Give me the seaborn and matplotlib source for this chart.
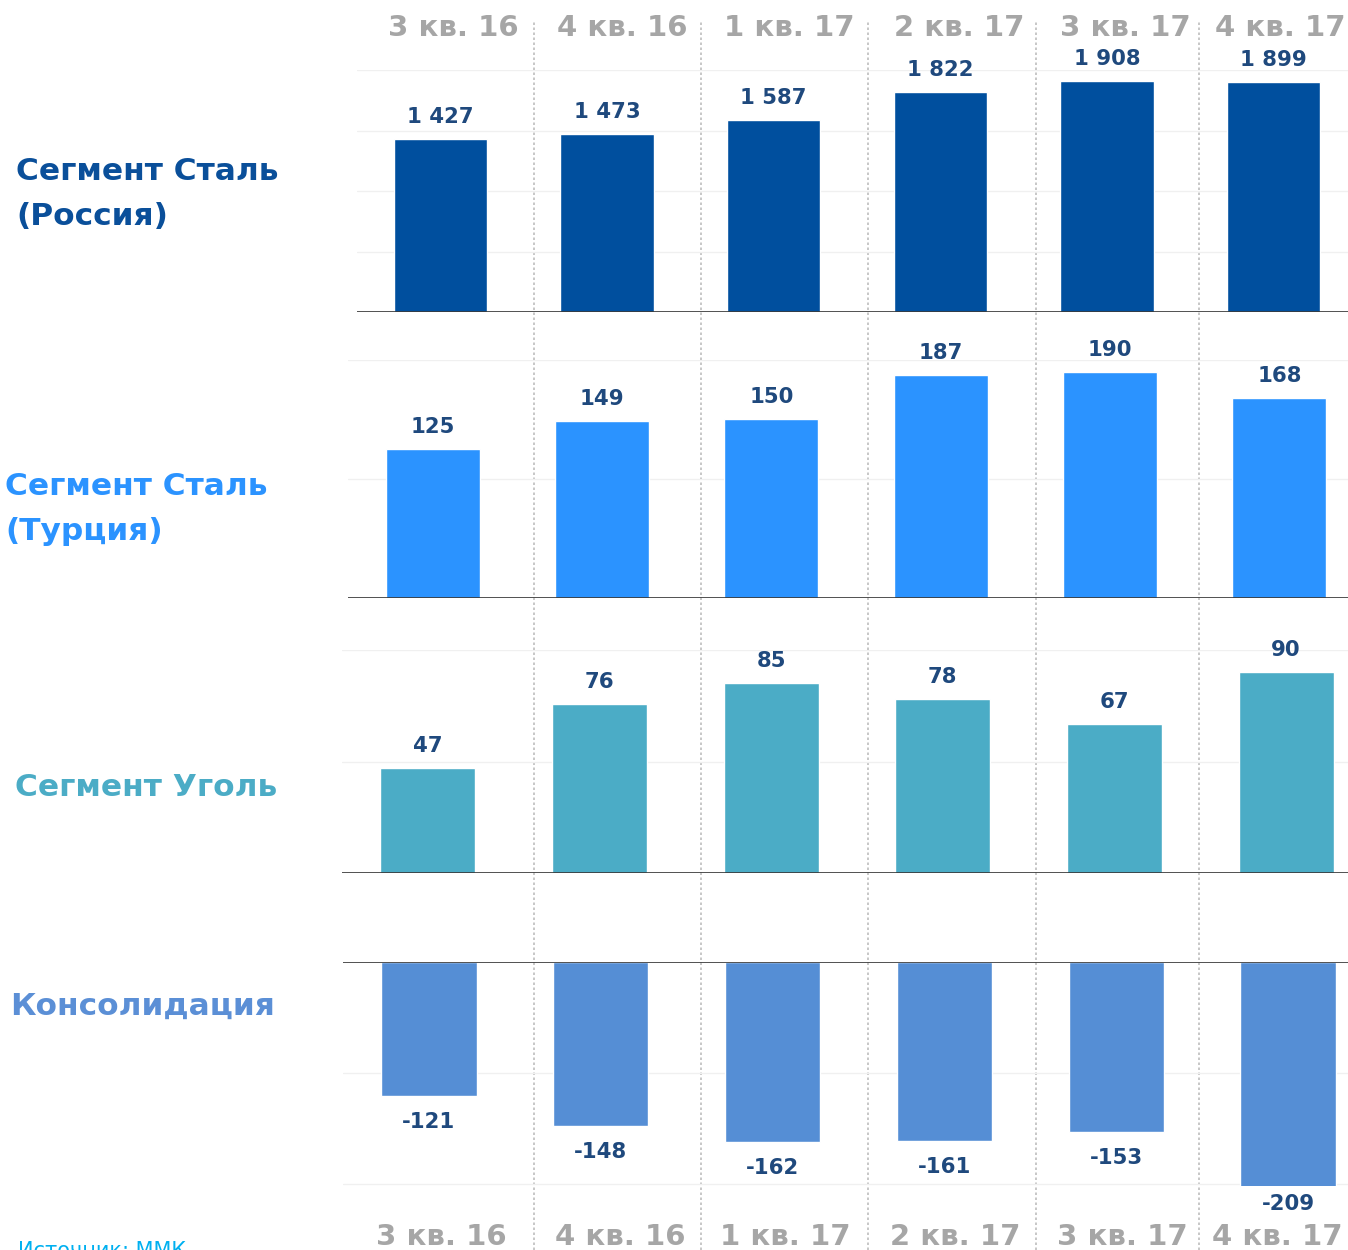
import numpy as np
import pandas as pd
import matplotlib.pyplot as plt
from matplotlib.lines import Line2D
import seaborn as sns

quarters = ['3 кв. 16', '4 кв. 16', '1 кв. 17', '2 кв. 17', '3 кв. 17', '4 кв. 17']
steel_russia = [1427, 1473, 1587, 1822, 1908, 1899]
steel_turkey = [125, 149, 150, 187, 190, 168]
coal = [47, 76, 85, 78, 67, 90]
consolidation = [-121, -148, -162, -161, -153, -209]

segment_names = ['Сегмент Сталь\n(Россия)', 'Сегмент Сталь\n(Турция)', 'Сегмент Уголь', 'Консолидация']
segment_colors = ['#004f9e', '#2b93ff', '#4bacc6', '#558ed5']
name_colors = ['#0a4f9a', '#2b93ff', '#4bacc6', '#5b8fd6']
label_color = '#1f497d'
quarter_color = '#a6a6a6'

sns.set_theme(style='white')
plt.rcParams['font.family'] = ['DejaVu Sans']

W, H = 1348, 1250
fig = plt.figure(figsize=(W / 100, H / 100), dpi=100)


def px_axes(left, top, width, height):
    return fig.add_axes([left / W, 1 - (top + height) / H, width / W, height / H])


# panel layout in pixels: left, top, width, height, ylim, grid ticks, bar width
panels = [
    (steel_russia, 357, 70, 1000, 242, (0, 2000), [500, 1000, 1500, 2000], 0.56),
    (steel_turkey, 348, 360, 1016, 238, (0, 200), [100, 200], 0.555),
    (coal, 342, 650, 1030, 223, (0, 100), [50, 100], 0.555),
    (consolidation, 343, 962, 1031, 224, (-202, 0), [-200, -100], 0.555),
]

for i, (vals, left, top, width, height, ylim, grid, bw) in enumerate(panels):
    ax = px_axes(left, top, width, height)
    df = pd.DataFrame({'quarter': quarters, 'value': vals})
    sns.barplot(data=df, x='quarter', y='value', color=segment_colors[i],
                width=bw, saturation=1, ax=ax, zorder=2)
    ax.set_ylim(*ylim)
    ax.set_xlim(-0.5, 5.5)
    ax.set_yticks(grid)
    ax.yaxis.grid(True, color='#f0f0f0', lw=1, zorder=0)
    ax.set_axisbelow(True)
    ax.set_xlabel('')
    ax.set_ylabel('')
    ax.set_xticks([])
    ax.set_yticklabels([])
    ax.tick_params(left=False, bottom=False)
    for s in ax.spines.values():
        s.set_visible(False)
    ax.axhline(0, color='#333333', lw=1.2, zorder=3)
    ax.patch.set_alpha(0)
    for j, v in enumerate(vals):
        txt = f'{v:,}'.replace(',', ' ')
        if v >= 0:
            y, off = v, 22
        elif v < ylim[0]:
            y, off = ylim[0], -18
        else:
            y, off = v, -26
        ax.annotate(txt, (j, y), xytext=(0, off), textcoords='offset pixels',
                    ha='center', va='center', fontsize=15.3, fontweight='bold',
                    color=label_color, annotation_clip=False)

# segment names on the left
name_pos = [(16, 194), (5, 509), (15, 787), (10, 1006)]
for name, (x, y), c in zip(segment_names, name_pos, name_colors):
    fig.text(x / W, 1 - y / H, name, ha='left', va='center', fontsize=22.5,
             fontweight='bold', color=c, linespacing=1.72)

# quarter labels top and bottom
top_x = [453, 622, 789, 959, 1125, 1280]
bot_x = [441, 620, 785, 955, 1122, 1277]
for q, xt, xb in zip(quarters, top_x, bot_x):
    fig.text(xt / W, 1 - 28 / H, q, ha='center', va='center', fontsize=21,
             fontweight='bold', color=quarter_color)
    fig.text(xb / W, 1 - 1237 / H, q, ha='center', va='center', fontsize=21,
             fontweight='bold', color=quarter_color)

# dotted separators between quarters
for xs in [534, 701, 868, 1036, 1199]:
    fig.add_artist(Line2D([xs / W, xs / W], [0, 1 - 20 / H], color='#bdbdbd',
                          lw=1.2, ls=(0, (1.5, 1.5)), zorder=0))

fig.text(18 / W, 1 - 1251 / H, 'Источник: ММК', ha='left', va='center',
         fontsize=15, color='#00b0f0')

fig.savefig('out.png', dpi=100)
